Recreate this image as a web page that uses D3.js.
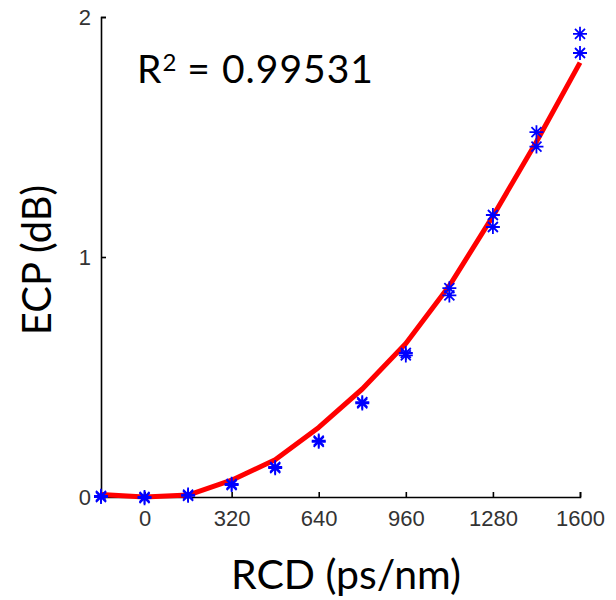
<!DOCTYPE html>
<html><head><meta charset="utf-8">
<script src="https://cdn.jsdelivr.net/npm/d3@7"></script>
<style>body{margin:0;background:#fff}svg{display:block}</style>
</head><body>
<script>
const xTicks = [0, 320, 640, 960, 1280, 1600];
const yTicks = [0, 1, 2];
const rcd = [-160, 0, 160, 320, 480, 640, 800, 960, 1120, 1280, 1440, 1600];
const ecpA = [0.00, 0.00, 0.005, 0.05, 0.12, 0.23, 0.39, 0.59, 0.84, 1.125, 1.46, 1.85];
const ecpB = [0.005, -0.005, 0.01, 0.055, 0.125, 0.235, 0.395, 0.60, 0.87, 1.175, 1.52, 1.93];
const fit = [0.01, 0.0, 0.008, 0.07, 0.155, 0.29, 0.45, 0.64, 0.88, 1.17, 1.48, 1.81];
const rLabel = "0.99531";

const W = 616, H = 600;
const svg = d3.select("body").append("svg").attr("width", W).attr("height", H);
const x = d3.scaleLinear().domain([-160, 1600]).range([101, 580]);
const y = d3.scaleLinear().domain([0, 2]).range([497, 17]);

// axes
const xAxis = d3.axisBottom(x).tickValues(xTicks).tickFormat(d3.format("d")).tickSize(-5).tickPadding(13).tickSizeOuter(-5);
const yAxis = d3.axisLeft(y).tickValues(yTicks).tickFormat(d3.format("d")).tickSize(-5).tickPadding(10).tickSizeOuter(-5);
const gx = svg.append("g").attr("transform", "translate(0,497)").call(xAxis);
const gy = svg.append("g").attr("transform", "translate(101,0)").call(yAxis);
[gx, gy].forEach(g => {
  g.attr("font-family", "'Liberation Sans', Arial, sans-serif").attr("font-size", 22);
  g.selectAll("path.domain").attr("stroke", "#000").attr("stroke-width", 1.6);
  g.selectAll(".tick line").attr("stroke", "#000").attr("stroke-width", 1.6);
  g.selectAll(".tick text").attr("fill", "#333");
});

// fit line
const line = d3.line().x((d, i) => x(rcd[i])).y(d => y(d));
svg.append("path").datum(fit).attr("d", line).attr("fill", "none")
  .attr("stroke", "#ff0000").attr("stroke-width", 5).attr("stroke-linejoin", "round");

// markers
const pts = [];
rcd.forEach((r, i) => { pts.push([r, ecpA[i]]); pts.push([r, ecpB[i]]); });
const s = 7, d2 = 5;
const mk = svg.append("g").attr("stroke", "#0000ff").attr("stroke-width", 1.8).attr("fill", "none");
pts.forEach(p => {
  const cx = x(p[0]), cy = y(p[1]);
  mk.append("path").attr("d",
    `M${cx - s},${cy}L${cx + s},${cy}M${cx},${cy - s}L${cx},${cy + s}` +
    `M${cx - d2},${cy - d2}L${cx + d2},${cy + d2}M${cx - d2},${cy + d2}L${cx + d2},${cy - d2}`);
});

// R^2 label
const t = svg.append("text").attr("x", 137).attr("y", 83)
  .attr("font-family", "Lato, Carlito, sans-serif").attr("font-size", 39).attr("fill", "#000");
t.append("tspan").text("R");
t.append("tspan").attr("font-size", 24).attr("dx", 1).attr("dy", -12).text("2");
t.append("tspan").attr("dy", 12).attr("letter-spacing", 1).text(" = " + rLabel);

// axis titles
svg.append("text").attr("x", 346).attr("y", 589).attr("text-anchor", "middle")
  .attr("font-family", "Lato, Carlito, sans-serif").attr("font-size", 41).text("RCD (ps/nm)");
svg.append("text").attr("transform", "translate(51,260) rotate(-90)").attr("text-anchor", "middle")
  .attr("font-family", "Lato, Carlito, sans-serif").attr("font-size", 40).text("ECP (dB)");
</script>
</body></html>
